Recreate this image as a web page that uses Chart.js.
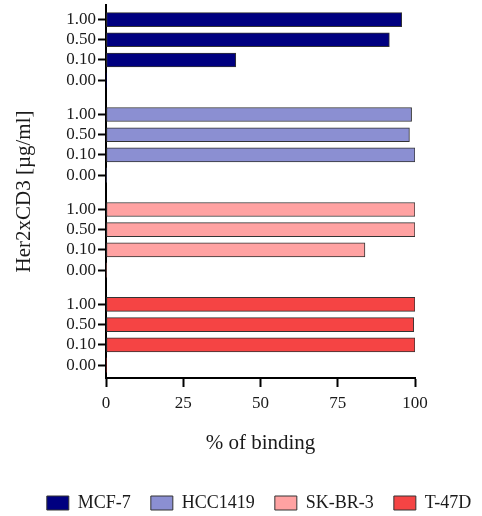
<!DOCTYPE html>
<html>
<head>
<meta charset="utf-8">
<script src="https://cdn.jsdelivr.net/npm/chart.js@4"></script>
<style>
  html, body { margin: 0; padding: 0; background: #fff; }
</style>
</head>
<body>
<canvas id="chart" width="482" height="516"></canvas>
<script>
// values (% of binding)
const doses = ['1.00', '0.50', '0.10', '0.00'];
const cellLines = ['MCF-7', 'HCC1419', 'SK-BR-3', 'T-47D'];
const mcf7 = [95.7, 91.7, 42.0, 0];
const hcc1419 = [98.9, 98.2, 100, 0];
const skbr3 = [100, 100, 83.8, 0];
const t47d = [100, 99.6, 100, 0];
const xTicks = [0, 25, 50, 75, 100];

const colors = ['#000080', '#8b8fd2', '#ffa2a2', '#f54444'];
const series = [mcf7, hcc1419, skbr3, t47d];
const serif = "'Liberation Serif', 'Times New Roman', serif";
const ink = '#1a1a1a';

// each group = 4 dose rows plus a gap
const groupStep = 4.7;
const rowPos = (g, r) => g * groupStep + r;

const yPositions = [];
const yLabels = [];
cellLines.forEach((_, g) => doses.forEach((d, r) => {
  yPositions.push(rowPos(g, r));
  yLabels.push(d);
}));

const datasets = cellLines.map((name, g) => ({
  label: name,
  data: series[g].map((v, r) => ({ x: v, y: rowPos(g, r) })),
  backgroundColor: colors[g],
  borderColor: '#333',
  borderWidth: ctx => (ctx.raw && ctx.raw.x === 0) ? 0 : 1,
  borderSkipped: false,
  barThickness: 14,
  grouped: false
}));

// nudge the legend so it sits centred under the plot like the original
const legendShift = {
  id: 'legendShift',
  afterLayout(chart) {
    const l = chart.legend;
    if (!l) return;
    l.left += 18; l.right += 18;
    l.top += 6; l.bottom += 6;
  }
};

new Chart(document.getElementById('chart'), {
  type: 'bar',
  data: { datasets },
  plugins: [legendShift],
  options: {
    responsive: false,
    animation: false,
    indexAxis: 'y',
    layout: { padding: { top: 5, right: 0, left: 0, bottom: 0 } },
    plugins: {
      tooltip: { enabled: false },
      legend: {
        position: 'bottom',
        labels: {
          boxWidth: 22,
          boxHeight: 14,
          padding: 20,
          color: ink,
          font: { family: serif, size: 18 }
        }
      }
    },
    scales: {
      x: {
        type: 'linear',
        min: 0,
        max: 100,
        afterBuildTicks: s => { s.ticks = xTicks.map(v => ({ value: v })); },
        afterFit: s => { s.height = 90; s.paddingRight = 67; },
        grid: { drawOnChartArea: false, tickLength: 9, tickWidth: 2, tickColor: '#000' },
        border: { color: '#000', width: 2 },
        ticks: { color: ink, padding: 6, font: { family: serif, size: 17 } },
        title: {
          display: true,
          text: '% of binding',
          color: ink,
          font: { family: serif, size: 21 },
          padding: { top: 0, bottom: 12 }
        }
      },
      y: {
        type: 'linear',
        reverse: true,
        offset: false,
        min: -0.72,
        max: rowPos(3, 3) + 0.64,
        afterBuildTicks: s => { s.ticks = yPositions.map(v => ({ value: v })); },
        afterFit: s => { s.width = 106; s.paddingTop = 0; s.paddingBottom = 0; },
        grid: { offset: false, drawOnChartArea: false, tickLength: 8, tickWidth: 2, tickColor: '#000' },
        border: { color: '#000', width: 2 },
        ticks: {
          color: ink,
          padding: 2,
          autoSkip: false,
          font: { family: serif, size: 17 },
          callback: (v, i) => yLabels[i]
        },
        title: {
          display: true,
          text: 'Her2xCD3 [µg/ml]',
          color: ink,
          font: { family: serif, size: 21 },
          padding: { top: 12, bottom: 0 }
        }
      }
    }
  }
});
</script>
</body>
</html>
